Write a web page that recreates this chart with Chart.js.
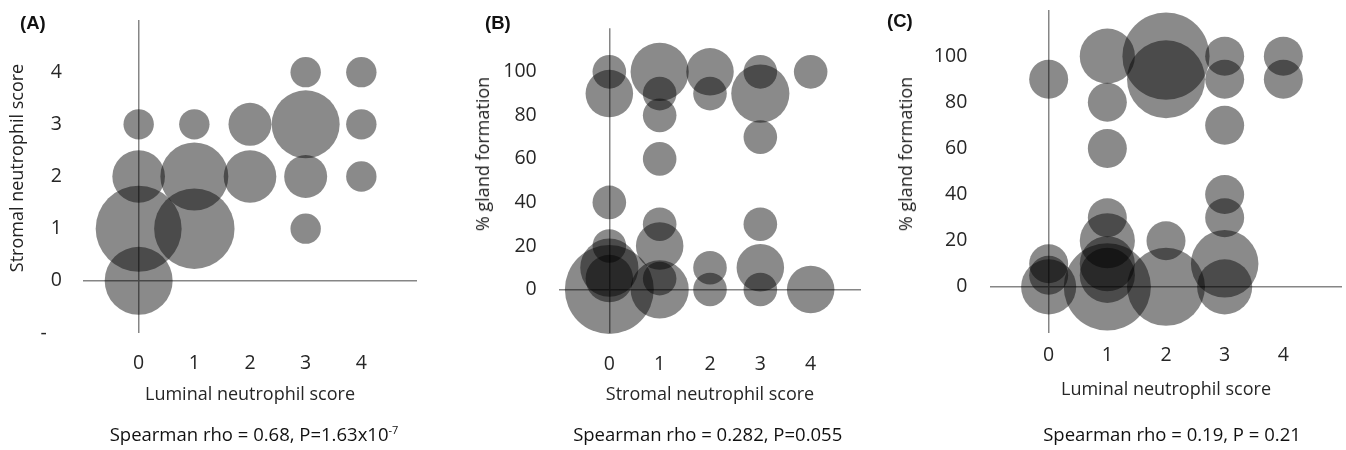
<!DOCTYPE html>
<html>
<head>
<meta charset="utf-8">
<script src="https://cdn.jsdelivr.net/npm/chart.js@4.4.1/dist/chart.umd.min.js"></script>
<style>
  body { margin: 0; background: #fff; }
  #fig { position: relative; width: 1346px; height: 450px; overflow: hidden; font-family: "Open Sans", sans-serif; color: #222; }
  canvas { position: absolute; top: 0; }
  .tag { position: absolute; font: bold 18.5px/1 "Liberation Sans", Arial, sans-serif; color: #111; }
  .ytitle { position: absolute; font-size: 18px; line-height: 1; white-space: nowrap; transform: translate(-50%, -50%) rotate(-90deg); }
  .note { position: absolute; font-size: 18.5px; line-height: 1; white-space: nowrap; transform: translateX(-50%); color: #111; }
  .note sup { font-size: 11px; vertical-align: 7px; line-height: 0; }
</style>
</head>
<body>
<div id="fig">
  <canvas id="chartA" width="440" height="450" style="left:0"></canvas>
  <canvas id="chartB" width="440" height="450" style="left:450px"></canvas>
  <canvas id="chartC" width="456" height="450" style="left:890px"></canvas>

  <div class="tag" style="left:20px; top:14px">(A)</div>
  <div class="tag" style="left:485px; top:14px">(B)</div>
  <div class="tag" style="left:887px; top:11.5px">(C)</div>

  <div class="ytitle" style="left:16.1px; top:168px">Stromal neutrophil score</div>
  <div class="ytitle" style="left:482px; top:153.7px">% gland formation</div>
  <div class="ytitle" style="left:905.2px; top:153.7px">% gland formation</div>

  <div class="note" style="left:254px; top:424.8px">Spearman rho = 0.68, P=1.63x10<sup>-7</sup></div>
  <div class="note" style="left:707.7px; top:424.8px">Spearman rho = 0.282, P=0.055</div>
  <div class="note" style="left:1172px; top:424.8px">Spearman rho = 0.19, P = 0.21</div>
</div>

<script>
// (A) luminal score (x) vs stromal score (y), bubble = number of cases
const aLuminal = [0, 1, 2, 3, 4, 3, 4, 0, 1, 2, 3, 4, 0, 1, 3, 0];
const aStromal = [3, 3, 3, 3, 3, 4, 4, 2, 2, 2, 2, 2, 1, 1, 1, 0];
const aCases   = [1, 1, 2, 5, 1, 1, 1, 3, 5, 3, 2, 1, 8, 7, 1, 5];

// (B) stromal score (x) vs % gland formation (y)
const bStromal = [0, 0, 0, 0, 0, 0, 0, 1, 1, 1, 1, 1, 1, 1, 1, 2, 2, 2, 2, 3, 3, 3, 3, 3, 3, 4, 4];
const bGland   = [100, 90, 40, 20, 10, 5, 0, 100, 90, 80, 60, 30, 20, 5, 0, 100, 90, 10, 0, 100, 90, 70, 30, 10, 0, 100, 0];
const bCases   = [1, 2, 1, 1, 3, 2, 7, 3, 1, 1, 1, 1, 2, 1, 3, 2, 1, 1, 1, 1, 3, 1, 1, 2, 1, 1, 2];

// (C) luminal score (x) vs % gland formation (y)
const cLuminal = [0, 0, 0, 0, 1, 1, 1, 1, 1, 1, 1, 1, 2, 2, 2, 2, 3, 3, 3, 3, 3, 3, 3, 4, 4];
const cGland   = [90, 10, 5, 0, 100, 80, 60, 30, 20, 10, 5, 0, 100, 90, 20, 0, 100, 90, 70, 40, 30, 10, 0, 100, 90];
const cCases   = [1, 1, 1, 2, 2, 1, 1, 1, 2, 2, 2, 5, 5, 4, 1, 4, 1, 1, 1, 1, 1, 3, 2, 1, 1];

// tick labels
const scoreTickValues = [0, 1, 2, 3, 4];
const scoreTickLabels = ['0', '1', '2', '3', '4'];
const aYTickValues = [-1, 0, 1, 2, 3, 4];
const aYTickLabels = ['-', '0', '1', '2', '3', '4'];
const glandTickValues = [0, 20, 40, 60, 80, 100];
const glandTickLabels = ['0', '20', '40', '60', '80', '100'];

const textColor = '#262626';
const axisGray = '#868686';
const bubbleFill = 'rgba(0,0,0,0.46)';
const tickFont = { family: 'Open Sans', size: 19.5 };
const titleFont = { family: 'Open Sans', size: 18 };

// bubble area proportional to count, like Excel
function bubbles(xs, ys, ns, r1) {
  return xs.map((x, i) => ({ x: x, y: ys[i], r: r1 * Math.sqrt(ns[i]) }));
}

function labeller(values, labels, pad) {
  return v => {
    const i = values.indexOf(Math.round(v));
    if (i < 0) return '';
    return labels[i] === '-' ? labels[i] + pad : labels[i];
  };
}

const zeroGrid = {
  color: c => (c.tick && c.tick.value === 0 ? axisGray : 'rgba(0,0,0,0)'),
  lineWidth: 1.5,
  drawTicks: false
};

function panel(id, o) {
  return new Chart(document.getElementById(id), {
    type: 'bubble',
    data: {
      datasets: [{
        data: o.data,
        backgroundColor: bubbleFill,
        borderWidth: 0,
        hoverRadius: 0,
        hoverBorderWidth: 0,
        clip: false
      }]
    },
    options: {
      responsive: false,
      animation: false,
      events: [],
      layout: { padding: o.pad, autoPadding: false },
      plugins: { legend: { display: false }, tooltip: { enabled: false } },
      scales: {
        x: {
          type: 'linear', min: -1, max: 5,
          grid: zeroGrid,
          border: { display: false },
          ticks: {
            stepSize: 1, autoSkip: false, maxRotation: 0,
            padding: o.xTickPad, color: textColor, font: tickFont,
            callback: labeller(scoreTickValues, scoreTickLabels, '')
          },
          title: {
            display: true, text: o.xTitle, color: textColor, font: titleFont,
            padding: { top: 0, bottom: o.xTitlePad }
          },
          afterFit: s => { s.height = o.xh; s.paddingLeft = 0; s.paddingRight = 0; }
        },
        y: {
          type: 'linear', min: o.yMin, max: o.yMax,
          grid: zeroGrid,
          border: { display: false },
          ticks: {
            stepSize: o.yStep, autoSkip: false,
            padding: o.yTickPad, color: textColor, font: tickFont,
            callback: labeller(o.yVals, o.yLabels, '   ')
          },
          afterFit: s => { s.width = o.yw; s.paddingTop = 0; s.paddingBottom = 0; }
        }
      }
    }
  });
}

panel('chartA', {
  data: bubbles(aLuminal, aStromal, aCases, 15.2),
  pad: { top: 20, right: 23, bottom: 0, left: 0 },
  xh: 117, yw: 83,
  yMin: -1, yMax: 5, yStep: 1,
  yVals: aYTickValues, yLabels: aYTickLabels,
  xTickPad: 18.4, yTickPad: 21,
  xTitle: 'Luminal neutrophil score', xTitlePad: 44
});

panel('chartB', {
  data: bubbles(bStromal, bGland, bCases, 16.8),
  pad: { top: 28.3, right: 29, bottom: 0, left: 0 },
  xh: 117, yw: 109,
  yMin: -20, yMax: 120, yStep: 20,
  yVals: glandTickValues, yLabels: glandTickLabels,
  xTickPad: 19.7, yTickPad: 22.3,
  xTitle: 'Stromal neutrophil score', xTitlePad: 44
});

panel('chartC', {
  data: bubbles(cLuminal, cGland, cCases, 19.5),
  pad: { top: 10, right: 4, bottom: 0, left: 0 },
  xh: 117, yw: 100,
  yMin: -20, yMax: 120, yStep: 20,
  yVals: glandTickValues, yLabels: glandTickLabels,
  xTickPad: 10.5, yTickPad: 22.7,
  xTitle: 'Luminal neutrophil score', xTitlePad: 49.8
});
</script>
</body>
</html>
